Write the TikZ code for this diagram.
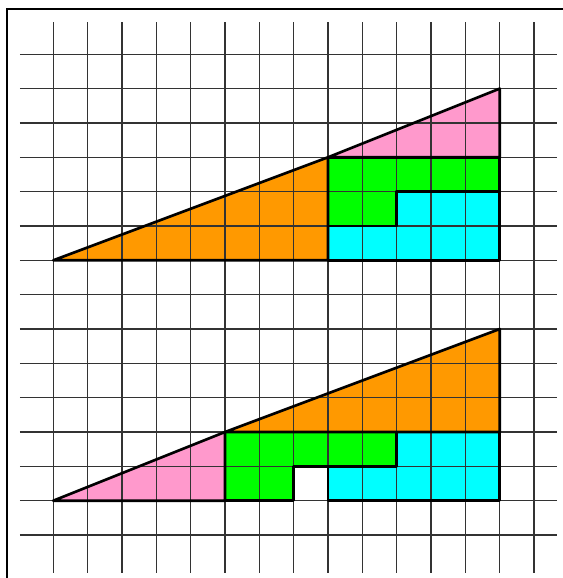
\documentclass[tikz,border=0pt]{standalone}
\definecolor{orng}{RGB}{255,153,0}
\definecolor{pnk}{RGB}{255,153,204}
\definecolor{grn}{RGB}{0,255,0}
\definecolor{cyn}{RGB}{0,255,255}
\begin{document}
\begin{tikzpicture}
  \clip (-1.55,-1.25) rectangle (14.84,15.58);
  \draw[line width=2.2pt] (-1.35,-3) rectangle (16,15.32);
  % upper figure, fills
  \fill[orng] (0,8) -- (8,8) -- (8,11) -- cycle;
  \fill[pnk] (8,11) -- (13,11) -- (13,13) -- cycle;
  \fill[grn] (8,11) -- (13,11) -- (13,10) -- (10,10) -- (10,9) -- (8,9) -- cycle;
  \fill[cyn] (8,8) -- (13,8) -- (13,10) -- (10,10) -- (10,9) -- (8,9) -- cycle;
  % lower figure, fills
  \fill[pnk] (0,1) -- (5,1) -- (5,3) -- cycle;
  \fill[orng] (5,3) -- (13,3) -- (13,6) -- cycle;
  \fill[grn] (5,1) -- (7,1) -- (7,2) -- (10,2) -- (10,3) -- (5,3) -- cycle;
  \fill[cyn] (8,1) -- (13,1) -- (13,3) -- (10,3) -- (10,2) -- (8,2) -- cycle;
  % grid
  \foreach \x in {0,...,14}
    \draw[black!80, line width=1pt] (\x,-1.1) -- (\x,14.95);
  \foreach \y in {0,...,14}
    \draw[black!80, line width=1pt] (-0.97,\y) -- (14.66,\y);
  % outlines
  \begin{scope}[line width=2.2pt, line join=round]
    \draw (0,8) -- (8,8) -- (8,11) -- cycle;
    \draw (8,11) -- (13,11) -- (13,13) -- cycle;
    \draw (8,11) -- (13,11) -- (13,10) -- (10,10) -- (10,9) -- (8,9) -- cycle;
    \draw (8,8) -- (13,8) -- (13,10) -- (10,10) -- (10,9) -- (8,9) -- cycle;
    \draw (0,1) -- (5,1) -- (5,3) -- cycle;
    \draw (5,3) -- (13,3) -- (13,6) -- cycle;
    \draw (5,1) -- (7,1) -- (7,2) -- (10,2) -- (10,3) -- (5,3) -- cycle;
    \draw (8,1) -- (13,1) -- (13,3) -- (10,3) -- (10,2) -- (8,2) -- cycle;
  \end{scope}
\end{tikzpicture}
\end{document}
